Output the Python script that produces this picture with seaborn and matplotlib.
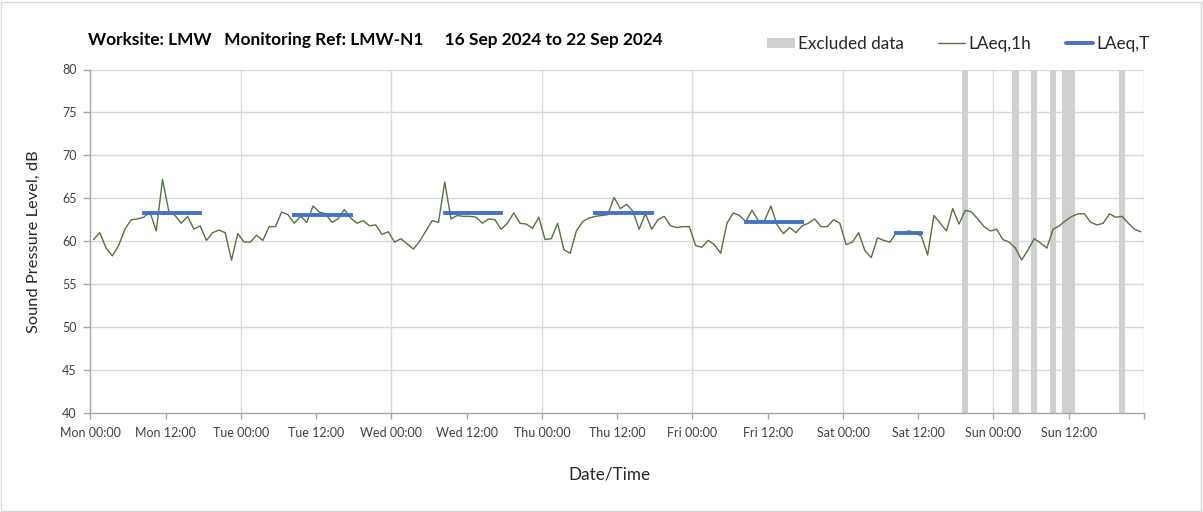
import numpy as np
import pandas as pd
import matplotlib
matplotlib.use("Agg")
import matplotlib.pyplot as plt
import seaborn as sns
from matplotlib.lines import Line2D
from matplotlib.patches import Patch, Rectangle

# ---------------- data ----------------
title_text = "Worksite: LMW   Monitoring Ref: LMW-N1     16 Sep 2024 to 22 Sep 2024"

# hourly LAeq,1h values, Mon 00:00 .. Sun 23:00 (168 hours)
laeq_1h = [
    60.2, 61.0, 59.2, 58.3, 59.5, 61.4, 62.5, 62.6, 62.8, 63.4, 61.2, 67.2,
    63.5, 63.0, 62.1, 62.9, 61.4, 61.8, 60.1, 61.0, 61.3, 61.0, 57.8, 60.9,
    59.9, 59.9, 60.7, 60.1, 61.7, 61.7, 63.4, 63.1, 62.1, 62.9, 62.2, 64.1,
    63.4, 63.2, 62.2, 62.6, 63.7, 62.7, 62.1, 62.4, 61.8, 61.9, 60.8, 61.1,
    59.9, 60.3, 59.7, 59.1, 60.0, 61.2, 62.4, 62.2, 66.9, 62.6, 63.0, 62.9,
    62.9, 62.8, 62.1, 62.6, 62.5, 61.4, 62.1, 63.3, 62.1, 62.0, 61.5, 62.8,
    60.2, 60.3, 62.1, 59.0, 58.6, 61.2, 62.3, 62.7, 62.9, 63.0, 63.1, 65.1,
    63.8, 64.3, 63.5, 61.4, 63.2, 61.4, 62.5, 62.9, 61.8, 61.6, 61.7, 61.7,
    59.5, 59.3, 60.1, 59.6, 58.6, 62.1, 63.3, 63.0, 62.3, 63.6, 62.4, 62.4,
    64.1, 61.9, 60.9, 61.6, 61.0, 61.8, 62.1, 62.6, 61.7, 61.7, 62.5, 62.1,
    59.6, 59.9, 61.0, 58.9, 58.1, 60.4, 60.1, 59.9, 61.0, 61.0, 61.2, 61.0,
    60.6, 58.4, 63.0, 62.1, 61.2, 63.8, 62.0, 63.6, 63.4, 62.6, 61.7, 61.2,
    61.4, 60.2, 59.9, 59.2, 57.8, 59.0, 60.3, 59.8, 59.2, 61.4, 61.8, 62.4,
    62.9, 63.2, 63.2, 62.2, 61.9, 62.1, 63.2, 62.8, 62.9, 62.1, 61.4, 61.1,
]

# LAeq,T working periods (hours from Mon 00:00)
period_start = [8.5, 32.5, 56.5, 80.5, 104.5, 128.5]
period_end = [17.5, 41.5, 65.5, 89.5, 113.5, 132.5]
period_level = [63.3, 63.1, 63.3, 63.3, 62.2, 61.0]

# excluded hours (hour index from Mon 00:00)
excluded_hours = [139, 147, 150, 153, 155, 156, 164]

tick_labels = ["Mon 00:00", "Mon 12:00", "Tue 00:00", "Tue 12:00", "Wed 00:00",
               "Wed 12:00", "Thu 00:00", "Thu 12:00", "Fri 00:00", "Fri 12:00",
               "Sat 00:00", "Sat 12:00", "Sun 00:00", "Sun 12:00", ""]

# ---------------- plot ----------------
sns.set_theme(style="white")
plt.rcParams["font.family"] = ["Lato", "DejaVu Sans"]

W, H = 1203, 512
fig = plt.figure(figsize=(W / 100, H / 100), dpi=100)
ax_l, ax_r, ax_t, ax_b = 90.4, 1144, 69.5, 413
ax = fig.add_axes([ax_l / W, 1 - ax_b / H, (ax_r - ax_l) / W, (ax_b - ax_t) / H])

df = pd.DataFrame({"hour": np.arange(len(laeq_1h)) + 0.5, "level": laeq_1h})
ex = pd.DataFrame({"hour": excluded_hours})

# excluded bands
ax.bar(ex["hour"], 40, bottom=40, width=1.0, align="edge",
       color="#d0d0d0", linewidth=0, zorder=1)

# hourly line
sns.lineplot(data=df, x="hour", y="level", ax=ax, color="#557240",
             linewidth=1.0, zorder=3, legend=False)

# LAeq,T
ax.hlines(period_level, period_start, period_end, color="#4472C4",
          linewidth=2.8, zorder=4, capstyle="projecting")

ax.set_xlim(0, 168)
ax.set_ylim(40, 80)
ax.set_xticks(np.arange(0, 169, 12))
ax.set_xticklabels(tick_labels)
ax.set_yticks(np.arange(40, 81, 5))

grid_c = "#d9d9d9"
for y in np.arange(45, 81, 5):
    ax.axhline(y, color=grid_c, linewidth=1.0, zorder=0)
for x in np.arange(24, 169, 24):
    ax.axvline(x, color=grid_c, linewidth=1.0, zorder=0)

for s in ["top", "right"]:
    ax.spines[s].set_visible(False)
for s in ["left", "bottom"]:
    ax.spines[s].set_color("#a6a6a6")
    ax.spines[s].set_linewidth(1.0)

ax.tick_params(axis="x", which="both", direction="out", length=4, width=1,
               color="#a6a6a6", labelsize=9, labelcolor="#404040", pad=6,
               bottom=True)
ax.tick_params(axis="y", which="both", direction="out", length=5, width=1,
               color="#a6a6a6", labelsize=9, labelcolor="#404040", pad=5,
               left=True)

ax.set_xlabel("Date/Time", fontsize=12.3, color="#262626")
ax.set_ylabel("Sound Pressure Level, dB", fontsize=11.8, color="#262626")
ax.xaxis.set_label_coords((609 - ax_l) / (ax_r - ax_l), -(467 - ax_b) / (ax_b - ax_t))
ax.yaxis.set_label_coords(-(ax_l - 41) / (ax_r - ax_l), 0.5)

fig.text(88 / W, 1 - 40 / H, title_text, fontsize=12.4, fontweight="bold",
         color="#000000", ha="left", va="center")

handles = [Patch(facecolor="#d0d0d0", edgecolor="none"),
           Line2D([0], [0], color="#557240", linewidth=1.0),
           Line2D([0], [0], color="#4472C4", linewidth=2.8)]
labels = ["Excluded data", "LAeq,1h", "LAeq,T"]
fig.legend(handles, labels, loc="center right", bbox_to_anchor=(1165 / W, 1 - 44 / H),
           ncol=3, frameon=False, fontsize=12.3, handlelength=1.6,
           handletextpad=0.2, columnspacing=2.0, handleheight=0.6,
           labelcolor="#262626")

# chart-area border
fig.patches.append(Rectangle((1 / W, 1 / H), 1 - 3 / W, 1 - 3 / H,
                             transform=fig.transFigure, fill=False,
                             edgecolor="#d9d9d9", linewidth=1.0))

fig.savefig("out.png", dpi=100, facecolor="white")
